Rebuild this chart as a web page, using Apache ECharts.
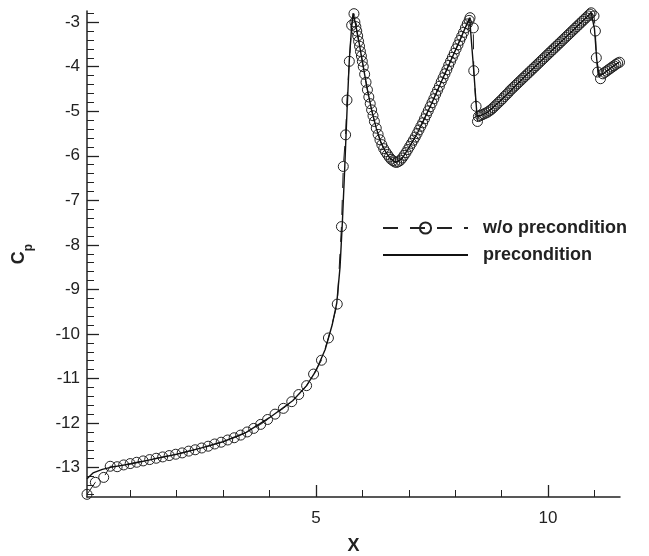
<!DOCTYPE html>
<html><head><meta charset="utf-8">
<script src="https://cdn.jsdelivr.net/npm/echarts@6/dist/echarts.min.js"></script>
<style>html,body{margin:0;padding:0;background:#fff}#c{width:649px;height:556px}</style>
</head><body><div id="c"></div>
<script>
const seriesNames = ['w/o precondition', 'precondition'];
const xMajorTicks = [5, 10];
const xMinorTicks = [1, 2, 3, 4, 6, 7, 8, 9, 11];
const yMajorTicks = [-13, -12, -11, -10, -9, -8, -7, -6, -5, -4, -3];

// w/o precondition (dashed line with circles)
const woLower = [[0.07,-13.60],[0.25,-13.33],[0.43,-13.22],[0.57,-12.97],[0.72,-12.98],[0.86,-12.94],[1.00,-12.91],[1.14,-12.88],[1.28,-12.85],[1.42,-12.82],[1.56,-12.79],[1.70,-12.76],[1.84,-12.73],[1.98,-12.70],[2.12,-12.67],[2.26,-12.63],[2.40,-12.60],[2.54,-12.56],[2.68,-12.52],[2.82,-12.47],[2.96,-12.43],[3.10,-12.38],[3.24,-12.33],[3.38,-12.27],[3.52,-12.20],[3.66,-12.12],[3.81,-12.03],[3.96,-11.92],[4.12,-11.80],[4.30,-11.67],[4.48,-11.52],[4.63,-11.36],[4.80,-11.16],[4.95,-10.90],[5.12,-10.59],[5.27,-10.09],[5.46,-9.33],[5.55,-7.59],[5.59,-6.24],[5.64,-5.53],[5.67,-4.75],[5.72,-3.88],[5.77,-3.07]];
const woPeak1 = [[5.82,-2.81],[5.84,-3.00],[5.86,-3.10],[5.88,-3.20],[5.90,-3.31],[5.92,-3.43],[5.94,-3.54],[5.96,-3.66],[5.98,-3.76],[6.00,-3.88],[6.02,-4.00],[6.05,-4.17],[6.08,-4.35],[6.11,-4.52],[6.14,-4.68],[6.17,-4.83],[6.20,-4.97],[6.23,-5.10],[6.26,-5.23],[6.30,-5.38],[6.34,-5.52],[6.38,-5.64],[6.42,-5.75],[6.46,-5.84],[6.50,-5.91],[6.54,-5.97],[6.58,-6.03],[6.62,-6.08],[6.66,-6.11],[6.70,-6.14],[6.74,-6.15]];
const woRise1 = [[6.78,-6.13],[6.82,-6.10],[6.86,-6.05],[6.90,-5.99],[6.94,-5.93],[6.98,-5.86],[7.02,-5.79],[7.06,-5.72],[7.10,-5.65],[7.14,-5.58],[7.18,-5.50],[7.22,-5.42],[7.26,-5.34],[7.30,-5.26],[7.34,-5.17],[7.38,-5.08],[7.42,-4.99],[7.46,-4.90],[7.50,-4.81],[7.54,-4.72],[7.58,-4.62],[7.62,-4.53],[7.66,-4.44],[7.70,-4.34],[7.74,-4.25],[7.78,-4.16],[7.82,-4.07],[7.86,-3.97],[7.90,-3.88],[7.94,-3.79],[7.98,-3.70],[8.02,-3.60],[8.06,-3.51],[8.10,-3.41],[8.14,-3.32],[8.18,-3.23],[8.22,-3.13],[8.26,-3.04],[8.30,-2.96],[8.32,-2.90]];
const woDrop1 = [[8.39,-3.13],[8.40,-4.09],[8.45,-4.89],[8.48,-5.23]];
const woRise2 = [[8.50,-5.12],[8.54,-5.10],[8.58,-5.08],[8.62,-5.06],[8.66,-5.04],[8.70,-5.02],[8.74,-4.99],[8.78,-4.96],[8.82,-4.92],[8.86,-4.88],[8.90,-4.84],[8.94,-4.80],[8.98,-4.76],[9.02,-4.72],[9.06,-4.67],[9.10,-4.63],[9.14,-4.59],[9.18,-4.54],[9.22,-4.50],[9.26,-4.46],[9.30,-4.42],[9.34,-4.38],[9.38,-4.34],[9.42,-4.30],[9.46,-4.26],[9.50,-4.22],[9.54,-4.18],[9.58,-4.14],[9.62,-4.10],[9.66,-4.06],[9.70,-4.02],[9.74,-3.98],[9.78,-3.94],[9.82,-3.90],[9.86,-3.86],[9.90,-3.82],[9.94,-3.78],[9.98,-3.74],[10.02,-3.70],[10.06,-3.66],[10.10,-3.62],[10.14,-3.58],[10.18,-3.54],[10.22,-3.50],[10.26,-3.46],[10.30,-3.42],[10.34,-3.38],[10.38,-3.34],[10.42,-3.30],[10.46,-3.26],[10.50,-3.22],[10.54,-3.18],[10.58,-3.14],[10.62,-3.10],[10.66,-3.06],[10.70,-3.02],[10.74,-2.98],[10.78,-2.94],[10.82,-2.90],[10.86,-2.86],[10.90,-2.82],[10.93,-2.79]];
const woDrop2 = [[10.99,-2.86],[11.02,-3.20],[11.04,-3.80],[11.07,-4.12],[11.13,-4.27]];
const woTail = [[11.18,-4.16],[11.22,-4.13],[11.26,-4.10],[11.30,-4.07],[11.34,-4.04],[11.38,-4.01],[11.42,-3.98],[11.46,-3.95],[11.50,-3.92],[11.54,-3.90]];

// precondition (solid line)
const preValues = [[0.07,-13.25],[0.20,-13.12],[0.40,-13.04],[0.60,-12.99],[1.00,-12.92],[1.50,-12.81],[2.00,-12.70],[2.50,-12.57],[3.00,-12.42],[3.50,-12.21],[4.00,-11.88],[4.50,-11.50],[4.80,-11.16],[5.00,-10.83],[5.20,-10.35],[5.35,-9.80],[5.45,-9.30],[5.52,-8.50],[5.57,-7.50],[5.62,-6.30],[5.67,-5.00],[5.72,-3.85],[5.77,-3.10],[5.80,-2.80],[5.85,-3.02],[5.92,-3.40],[6.00,-3.88],[6.10,-4.47],[6.20,-4.97],[6.30,-5.38],[6.40,-5.70],[6.50,-5.91],[6.60,-6.06],[6.72,-6.15],[6.85,-6.07],[7.00,-5.83],[7.20,-5.46],[7.50,-4.81],[7.80,-4.11],[8.10,-3.41],[8.31,-2.90],[8.40,-4.09],[8.47,-5.10],[8.55,-5.10],[8.70,-5.02],[9.00,-4.74],[9.50,-4.22],[10.00,-3.72],[10.50,-3.22],[10.93,-2.79],[11.00,-3.15],[11.05,-3.85],[11.10,-4.20],[11.20,-4.15],[11.35,-4.03],[11.54,-3.89]];

const woValues = [].concat(woLower, woPeak1, woRise1, woDrop1, woRise2, woDrop2, woTail);

const yMinorTicks = [];
for (let i = -68; i <= -14; i++) { if (i % 5 !== 0) yMinorTicks.push(+(i * 0.2).toFixed(1)); }

const FONT = "'Liberation Sans', Arial, Helvetica, sans-serif";
const INK = '#222';
const X_MIN = 0.07, X_MAX = 11.55, Y_MIN = -13.66, Y_MAX = -2.75;

const chart = echarts.init(document.getElementById('c'), null, {renderer: 'canvas'});
chart.setOption({
  animation: false,
  backgroundColor: '#fff',
  grid: {left: 87, right: 29, top: 11, bottom: 59, containLabel: false, outerBoundsMode: 'none'},
  legend: {
    orient: 'vertical', left: 382, top: 219, padding: 0,
    itemWidth: 85, itemHeight: 14, itemGap: 9,
    textStyle: {fontFamily: FONT, fontWeight: 'bold', fontSize: 18, color: INK, padding: [0, 0, 0, 10]},
    data: [
      {name: seriesNames[0]},
      {name: seriesNames[1], itemStyle: {color: 'rgba(0,0,0,0)', borderWidth: 0, opacity: 0}}
    ]
  },
  xAxis: [{
    type: 'value', min: X_MIN, max: X_MAX,
    name: 'X', nameLocation: 'middle', nameGap: 40,
    nameTextStyle: {fontFamily: FONT, fontWeight: 'bold', fontSize: 18, color: INK},
    axisLine: {show: true, onZero: false, lineStyle: {color: INK, width: 1.5}},
    axisTick: {show: true, inside: true, length: 12, customValues: xMajorTicks, lineStyle: {color: INK, width: 1.3}},
    axisLabel: {show: true, customValues: xMajorTicks, margin: 13, fontFamily: FONT, fontSize: 17, color: INK},
    splitLine: {show: false}
  }, {
    type: 'value', min: X_MIN, max: X_MAX, position: 'bottom',
    axisLine: {show: false},
    axisTick: {show: true, inside: true, length: 7, customValues: xMinorTicks, lineStyle: {color: INK, width: 1}},
    axisLabel: {show: false, customValues: xMinorTicks},
    splitLine: {show: false}
  }],
  yAxis: [{
    type: 'value', min: Y_MIN, max: Y_MAX,
    name: '{c|C}{p|p}', nameLocation: 'middle', nameGap: 52, nameRotate: 90,
    nameTextStyle: {
      fontFamily: FONT, color: INK,
      rich: {
        c: {fontFamily: FONT, fontWeight: 'bold', fontSize: 18, color: INK, lineHeight: 25, verticalAlign: 'top'},
        p: {fontFamily: FONT, fontWeight: 'bold', fontSize: 12, color: INK, verticalAlign: 'bottom'}
      }
    },
    axisLine: {show: true, onZero: false, lineStyle: {color: INK, width: 1.5}},
    axisTick: {show: true, inside: true, length: 12, customValues: yMajorTicks, lineStyle: {color: INK, width: 1.3}},
    axisLabel: {show: true, customValues: yMajorTicks, margin: 7, fontFamily: FONT, fontSize: 17, color: INK},
    splitLine: {show: false}
  }, {
    type: 'value', min: Y_MIN, max: Y_MAX, position: 'left',
    axisLine: {show: false},
    axisTick: {show: true, inside: true, length: 7, customValues: yMinorTicks, lineStyle: {color: INK, width: 1}},
    axisLabel: {show: false, customValues: yMinorTicks},
    splitLine: {show: false}
  }],
  series: [{
    name: seriesNames[0], type: 'line', data: woValues,
    xAxisIndex: 0, yAxisIndex: 0,
    symbol: 'circle', symbolSize: 10, showAllSymbol: true,
    itemStyle: {color: 'rgba(0,0,0,0)', borderColor: INK, borderWidth: 1},
    lineStyle: {color: INK, width: 1, type: [15, 12]},
    emphasis: {disabled: true}, z: 2
  }, {
    name: seriesNames[1], type: 'line', data: preValues,
    xAxisIndex: 0, yAxisIndex: 0,
    symbol: 'none',
    itemStyle: {color: '#111'},
    lineStyle: {color: '#111', width: 1.4, type: 'solid'},
    emphasis: {disabled: true}, z: 3
  }]
});
</script>
</body></html>
